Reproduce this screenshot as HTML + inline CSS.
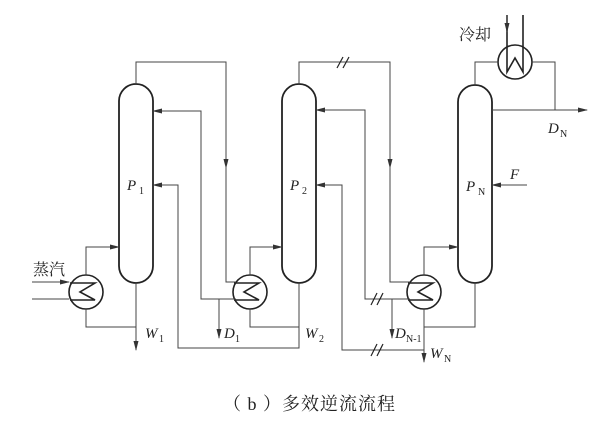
<!DOCTYPE html>
<html><head><meta charset="utf-8"><style>
body{margin:0;background:#fff;}
svg text{font-family:"Liberation Serif","Noto Serif CJK SC",serif;fill:#222;}
.i{font-style:italic;}
</style></head><body>
<svg width="609" height="420" viewBox="0 0 609 420" xmlns="http://www.w3.org/2000/svg">
<defs><marker id="a" markerWidth="10" markerHeight="6" refX="9" refY="3" orient="auto" markerUnits="userSpaceOnUse"><path d="M0,0.5 L10,3 L0,5.5 Z" fill="#333"/></marker></defs>
<g fill="none" stroke="#444" stroke-width="1">
<rect x="119" y="84" width="34" height="199" rx="17" stroke="#222" stroke-width="1.8"/>
<rect x="282" y="84" width="34" height="199" rx="17" stroke="#222" stroke-width="1.8"/>
<rect x="458" y="85" width="34" height="198" rx="17" stroke="#222" stroke-width="1.8"/>
<circle cx="86" cy="292" r="17" stroke="#222" stroke-width="1.6"/>
<circle cx="250" cy="292" r="17" stroke="#222" stroke-width="1.6"/>
<circle cx="424" cy="292" r="17" stroke="#222" stroke-width="1.6"/>
<circle cx="515" cy="62" r="17" stroke="#222" stroke-width="1.6"/>
<polyline points="70,283 95,283 80,292 95,300 70,300" stroke="#222" stroke-width="1.6"/>
<polyline points="234,283 259,283 244,292 259,300 234,300" stroke="#222" stroke-width="1.6"/>
<polyline points="408,283 433,283 418,292 433,300 408,300" stroke="#222" stroke-width="1.6"/>
<polyline points="507,15 507,72 515,58 523,72 523,15" stroke="#222" stroke-width="1.6"/>
<line x1="507" y1="15" x2="507" y2="32" marker-end="url(#a)"/>
<polyline points="32,282 69,282" marker-end="url(#a)"/>
<line x1="32" y1="299" x2="69" y2="299"/>
<polyline points="86,275 86,247 119,247" marker-end="url(#a)"/>
<polyline points="86,309 86,327 136,327"/>
<polyline points="136,283 136,350" marker-end="url(#a)"/>
<polyline points="136,84 136,62 226,62 226,168" marker-end="url(#a)"/>
<polyline points="226,165 226,282 236,282"/>
<polyline points="236,299 201,299 201,111 153,111" marker-end="url(#a)"/>
<line x1="219" y1="299" x2="219" y2="338" marker-end="url(#a)"/>
<polyline points="299,283 299,348 178,348 178,185 153,185" marker-end="url(#a)"/>
<polyline points="250,309 250,327 299,327"/>
<polyline points="250,275 250,247 282,247" marker-end="url(#a)"/>
<polyline points="299,84 299,62 390,62 390,168" marker-end="url(#a)"/>
<polyline points="390,165 390,282 410,282"/>
<polyline points="410,299 365,299 365,110 316,110" marker-end="url(#a)"/>
<line x1="392" y1="299" x2="392" y2="338" marker-end="url(#a)"/>
<polyline points="424,309 424,350 342,350 342,185 316,185" marker-end="url(#a)"/>
<line x1="424" y1="340" x2="424" y2="362" marker-end="url(#a)"/>
<polyline points="424,275 424,247 458,247" marker-end="url(#a)"/>
<polyline points="475,283 475,327 424,327"/>
<polyline points="475,85 475,62 498,62"/>
<polyline points="532,62 555,62 555,110"/>
<line x1="492" y1="110" x2="587" y2="110" marker-end="url(#a)"/>
<line x1="527" y1="185" x2="492" y2="185" marker-end="url(#a)"/>
<g stroke="#222" stroke-width="1.2">
<line x1="337" y1="68" x2="343" y2="57"/><line x1="343" y1="68" x2="349" y2="57"/>
<line x1="371" y1="305" x2="377" y2="293"/><line x1="377" y1="305" x2="383" y2="293"/>
<line x1="371" y1="356" x2="377" y2="344"/><line x1="377" y1="356" x2="383" y2="344"/>
</g>
</g>
<g font-size="15">
<text x="127" y="190" class="i">P</text><text x="139" y="194" font-size="10">1</text>
<text x="290" y="190" class="i">P</text><text x="302" y="194" font-size="10">2</text>
<text x="466" y="191" class="i">P</text><text x="478" y="195" font-size="10">N</text>
<text x="145" y="338" class="i">W</text><text x="159" y="342" font-size="10">1</text>
<text x="224" y="338" class="i">D</text><text x="235" y="342" font-size="10">1</text>
<text x="305" y="338" class="i">W</text><text x="319" y="342" font-size="10">2</text>
<text x="395" y="338" class="i">D</text><text x="406" y="342" font-size="10">N-1</text>
<text x="430" y="358" class="i">W</text><text x="444" y="362" font-size="10">N</text>
<text x="548" y="133" class="i">D</text><text x="560" y="137" font-size="10">N</text>
<text x="510" y="179" class="i">F</text>
<text x="33" y="275" font-family="Noto Serif CJK SC" font-size="16">蒸汽</text>
<text x="459" y="40" font-family="Noto Serif CJK SC" font-size="16">冷却</text>
<text x="223" y="410" font-family="Noto Serif CJK SC" font-size="18" letter-spacing="1">（ b ）多效逆流流程</text>
</g>
</svg>
</body></html>
